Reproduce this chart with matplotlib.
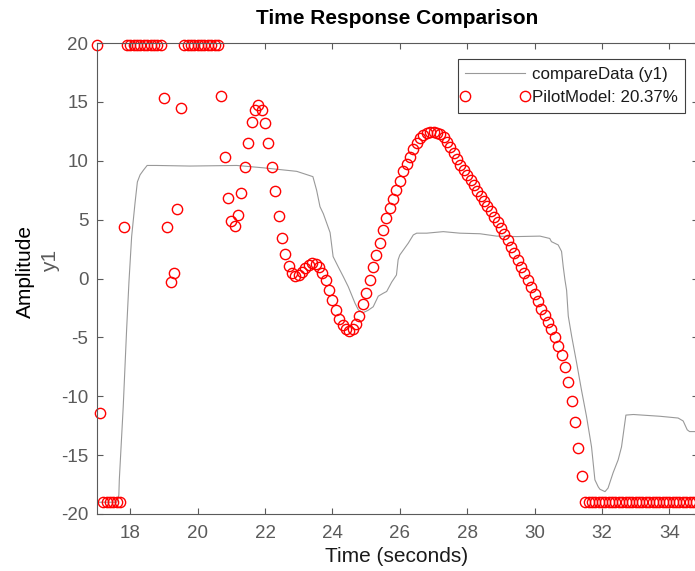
import numpy as np
import matplotlib
matplotlib.use("Agg")
import matplotlib.pyplot as plt
from matplotlib.legend_handler import HandlerLine2D

plt.rcParams['font.family'] = ['Liberation Sans', 'DejaVu Sans']
plt.rcParams['axes.unicode_minus'] = False

# ---- data ----
# measured output (compareData, y1): vertices read from the picture
meas_t = [17.0, 17.6, 17.66, 17.674, 17.79, 17.89, 17.96, 18.04, 18.14, 18.21, 18.29,
          18.39, 18.50, 18.78, 19.77, 21.16, 21.95, 22.94, 23.42, 23.53, 23.63, 23.73,
          23.93, 24.02, 24.17, 24.32, 24.47, 24.57, 24.67, 24.77, 24.91, 25.06, 25.21,
          25.36, 25.51, 25.61, 25.76, 25.90, 25.95, 26.0, 26.1, 26.25, 26.4, 26.5,
          26.8, 27.29, 27.78, 28.38, 28.87, 29.47, 30.16, 30.45, 30.5, 30.7, 30.8,
          30.85, 30.9, 30.95, 31.0, 31.1, 31.25, 31.39, 31.54, 31.69, 31.79, 31.89,
          31.94, 32.09, 32.18, 32.33, 32.48, 32.58, 32.71, 32.93, 33.72, 34.26, 34.41,
          34.53, 34.60, 34.85]
meas_y = [-19.0, -19.0, -18.4, -17.1, -10.9, -4.4, -0.3, 3.56, 6.4, 8.2, 8.8,
          9.2, 9.6, 9.6, 9.55, 9.6, 9.4, 9.1, 8.65, 7.5, 6.1, 5.5,
          3.9, 1.86, 1.0, 0.17, -0.7, -1.4, -2.1, -2.67, -2.9, -2.7, -2.4,
          -1.5, -1.25, -1.1, -0.3, 0.3, 1.6, 2.0, 2.4, 3.0, 3.7, 3.85,
          3.85, 3.98, 3.85, 3.8, 3.6, 3.56, 3.6, 3.4, 3.13, 2.85, 2.3,
          1.0, -0.1, -1.0, -3.2, -4.9, -7.2, -9.45, -11.7, -14.3, -17.1, -17.7,
          -17.9, -18.1, -17.8, -16.5, -15.4, -14.3, -11.6, -11.55, -11.7, -11.85, -12.1,
          -12.85, -13.0, -13.0]

# model output (PilotModel), sample time 0.1 s starting at 17.0 s
model_t0 = 17.0
model_dt = 0.1
model_y = [19.8, -11.4,
           -19.0, -19.0, -19.0, -19.0, -19.0, -19.0,
           4.4,
           19.8, 19.8, 19.8, 19.8, 19.8, 19.8, 19.8, 19.8, 19.8, 19.8, 19.8,
           15.3, 4.4, -0.3, 0.5, 5.9, 14.5,
           19.8, 19.8, 19.8, 19.8, 19.8, 19.8, 19.8, 19.8, 19.8, 19.8, 19.8,
           15.5, 10.3, 6.8, 4.9, 4.5, 5.4, 7.3, 9.5, 11.5, 13.3,
           14.3, 14.7, 14.3, 13.2, 11.5, 9.5, 7.4, 5.3, 3.4, 2.05,
           1.1, 0.45, 0.25, 0.3, 0.55, 0.85, 1.15, 1.3, 1.25, 0.95,
           0.45, -0.15, -0.95, -1.8, -2.65, -3.4, -3.95, -4.3, -4.45, -4.3,
           -3.9, -3.2, -2.2, -1.2, -0.15, 0.95, 2.0, 3.05, 4.1, 5.1,
           6.0, 6.75, 7.5, 8.3, 9.1, 9.7, 10.35, 11.0, 11.5, 11.9,
           12.2, 12.35, 12.4, 12.4, 12.35, 12.3, 12.05, 11.6, 11.15, 10.65,
           10.15, 9.65, 9.2, 8.75, 8.35, 7.9, 7.45, 7.0, 6.6, 6.15,
           5.7, 5.25, 4.8, 4.3, 3.8, 3.25, 2.7, 2.15, 1.6, 1.0,
           0.45, -0.15, -0.75, -1.35, -1.95, -2.55, -3.1, -3.7, -4.3, -5.0,
           -5.7, -6.5, -7.5, -8.8, -10.4, -12.2, -14.4, -16.8,
           -19.0, -19.0, -19.0, -19.0, -19.0, -19.0, -19.0, -19.0, -19.0, -19.0,
           -19.0, -19.0, -19.0, -19.0, -19.0, -19.0, -19.0, -19.0, -19.0, -19.0,
           -19.0, -19.0, -19.0, -19.0, -19.0, -19.0, -19.0, -19.0, -19.0, -19.0,
           -19.0, -19.0, -19.0, -19.0]
model_t = model_t0 + model_dt * np.arange(len(model_y))

x_ticks = [18, 20, 22, 24, 26, 28, 30, 32, 34]
y_ticks = [-20, -15, -10, -5, 0, 5, 10, 15, 20]
legend_labels = ['compareData (y1)', 'PilotModel: 20.37%']

# ---- figure ----
W, H = 695, 571
fig = plt.figure(figsize=(W / 100, H / 100), dpi=100)
left, right, top, bottom = 96.6, 698.0, 43.0, 514.0
ax = fig.add_axes([left / W, 1 - bottom / H, (right - left) / W, (bottom - top) / H])

axcol = '#5a5a5a'
l1, = ax.plot(meas_t, meas_y, color='#999999', lw=0.8)
l2, = ax.plot(model_t, model_y, linestyle='none', marker='o', ms=7.4,
              mfc='none', mec='#ff0000', mew=1.0, clip_on=False)

ax.set_xlim(17, 34.85)
ax.set_ylim(-20, 20)
ax.set_xticks(x_ticks)
ax.set_yticks(y_ticks)
ax.tick_params(direction='in', length=4.5, width=0.8, colors=axcol,
               labelsize=13.5, top=True, right=True, pad=6)
ax.tick_params(axis='x', pad=8)
for s in ax.spines.values():
    s.set_color(axcol)
    s.set_linewidth(0.8)

fig.text(397 / W, 1 - 18 / H, 'Time Response Comparison', ha='center', va='center',
         fontsize=15, fontweight='bold', color='black')
fig.text(397 / W, 1 - 557 / H, 'Time (seconds)', ha='center', va='center',
         fontsize=15, color='#1a1a1a')
fig.text(25 / W, 1 - 272 / H, 'Amplitude', ha='center', va='center', rotation=90,
         fontsize=15, color='black')
fig.text(51 / W, 1 - 261 / H, 'y1', ha='center', va='center', rotation=90,
         fontsize=15, color=axcol)

leg = ax.legend([l1, l2], legend_labels, loc='upper right',
                bbox_to_anchor=(685 / W, 1 - 59 / H), bbox_transform=fig.transFigure,
                borderaxespad=0, fancybox=False, framealpha=1, fontsize=12.2,
                handlelength=3.5, handletextpad=0.4, borderpad=0.45, labelspacing=0.5,
                handler_map={l2: HandlerLine2D(marker_pad=0, numpoints=2)})
leg.get_frame().set_edgecolor('#404040')
leg.get_frame().set_linewidth(0.8)
for t in leg.get_texts():
    t.set_color('#1a1a1a')

fig.savefig('out.png', dpi=100)
